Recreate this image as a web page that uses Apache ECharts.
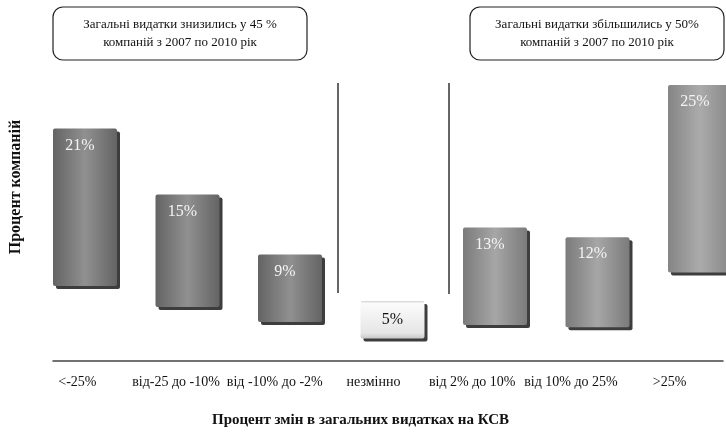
<!DOCTYPE html>
<html>
<head>
<meta charset="utf-8">
<script src="https://cdn.jsdelivr.net/npm/echarts@6/dist/echarts.min.js"></script>
<style>html,body{margin:0;padding:0;background:#fff;}#c{width:726px;height:434px;}</style>
</head>
<body>
<div id="c"></div>
<script>
const categories = ['<-25%', 'від-25 до -10%', 'від -10% до -2%', 'незмінно', 'від 2% до 10%', 'від 10% до 25%', '>25%'];
const shares = [21, 15, 9, 5, 13, 12, 25];
const barBase = [10, 7.2, 5.2, 3, 4.8, 4.5, 11.8];
const noteDown = 'Загальні видатки знизились у 45 %\nкомпаній з 2007 по 2010 рік';
const noteUp = 'Загальні видатки збільшились у 50%\nкомпаній з 2007 по 2010 рік';
const yTitle = 'Процент компаній';
const xTitle = 'Процент змін в загальних видатках на КСВ';

const FONT = '"Liberation Serif", "DejaVu Serif", serif';

function grad(edge, mid) {
  return { type: 'linear', x: 0, y: 0, x2: 1, y2: 0,
    colorStops: [{offset: 0, color: edge}, {offset: 0.5, color: mid}, {offset: 1, color: edge}] };
}
function styleFor(i) {
  const shadow = { shadowColor: 'rgba(40,40,40,0.9)', shadowOffsetX: 3, shadowOffsetY: 3, shadowBlur: 0, borderRadius: 2 };
  if (i === 3) {
    return Object.assign({ color: { type: 'linear', x: 0, y: 0, x2: 0, y2: 1,
      colorStops: [{offset: 0, color: '#d0d0d0'}, {offset: 0.06, color: '#fbfbfb'}, {offset: 0.85, color: '#e6e6e6'}, {offset: 1, color: '#c8c8c8'}] } }, shadow);
  }
  if (i < 3) return Object.assign({ color: grad('#646464', '#909090') }, shadow);
  if (i === 6) return Object.assign({ color: grad('#858585', '#ababab') }, shadow);
  return Object.assign({ color: grad('#7b7b7b', '#a6a6a6') }, shadow);
}
function labelFor(i) {
  if (i === 3) return { show: true, position: 'inside', color: '#111', fontSize: 16, fontFamily: FONT, formatter: '{c}%' };
  return { show: true, position: 'insideTop', distance: 9, offset: [-5, 0], color: '#f4f4f4', fontSize: 16, fontFamily: FONT, formatter: '{c}%' };
}

const chart = echarts.init(document.getElementById('c'), null, { renderer: 'canvas' });
chart.setOption({
  animation: false,
  backgroundColor: '#fff',
  grid: [
    { left: 85, right: 26, top: 61, bottom: 73 },
    { left: 18, right: 7, top: 13, bottom: 73 },
    { left: 53, right: 3, top: 61, bottom: 73 }
  ],
  xAxis: [
    { gridIndex: 0, type: 'category', data: categories, show: false, boundaryGap: false },
    { gridIndex: 1, type: 'category', data: categories,
      axisLine: { show: false }, axisTick: { show: false },
      axisLabel: { margin: 14, color: '#111', fontSize: 14, fontFamily: FONT, interval: 0 },
      name: xTitle, nameLocation: 'middle', nameGap: 52,
      nameTextStyle: { fontSize: 15, fontWeight: 'bold', color: '#111', fontFamily: FONT, padding: [0, 26, 0, 0] } },
    { gridIndex: 2, type: 'category', data: [''],
      axisLine: { show: true, lineStyle: { color: '#444', width: 1.5 } },
      axisTick: { show: false }, axisLabel: { show: false } }
  ],
  yAxis: [
    { gridIndex: 0, type: 'value', min: 0, max: 40, show: false },
    { gridIndex: 1, type: 'value', min: 0, max: 1,
      axisLine: { show: false }, axisTick: { show: false }, axisLabel: { show: false }, splitLine: { show: false },
      name: yTitle, nameLocation: 'middle', nameGap: 4, nameRotate: 90,
      nameTextStyle: { fontSize: 16, fontWeight: 'bold', color: '#111', fontFamily: FONT } },
    { gridIndex: 2, type: 'value', show: false }
  ],
  series: [
    { type: 'bar', xAxisIndex: 0, yAxisIndex: 0, stack: 'float', barWidth: 64, silent: true, clip: false,
      itemStyle: { color: 'rgba(0,0,0,0)' }, data: barBase },
    { type: 'bar', xAxisIndex: 0, yAxisIndex: 0, stack: 'float', barWidth: 64, clip: false,
      data: shares.map((v, i) => ({ value: v, itemStyle: styleFor(i), label: labelFor(i) })) }
  ],
  graphic: [
    { type: 'rect', shape: { x: 53, y: 7, width: 254, height: 53, r: 10 },
      style: { fill: '#fff', stroke: '#222', lineWidth: 1.2 } },
    { type: 'text', x: 180, y: 33.5,
      style: { text: noteDown, font: '13px ' + FONT, fill: '#111', align: 'center', verticalAlign: 'middle', lineHeight: 18 } },
    { type: 'rect', shape: { x: 470, y: 7, width: 254, height: 53, r: 10 },
      style: { fill: '#fff', stroke: '#222', lineWidth: 1.2 } },
    { type: 'text', x: 597, y: 33.5,
      style: { text: noteUp, font: '13px ' + FONT, fill: '#111', align: 'center', verticalAlign: 'middle', lineHeight: 18 } },
    { type: 'line', shape: { x1: 338, y1: 83, x2: 338, y2: 293 }, style: { stroke: '#333', lineWidth: 1.5 } },
    { type: 'line', shape: { x1: 449, y1: 83, x2: 449, y2: 294 }, style: { stroke: '#333', lineWidth: 1.5 } }
  ]
});
</script>
</body>
</html>
